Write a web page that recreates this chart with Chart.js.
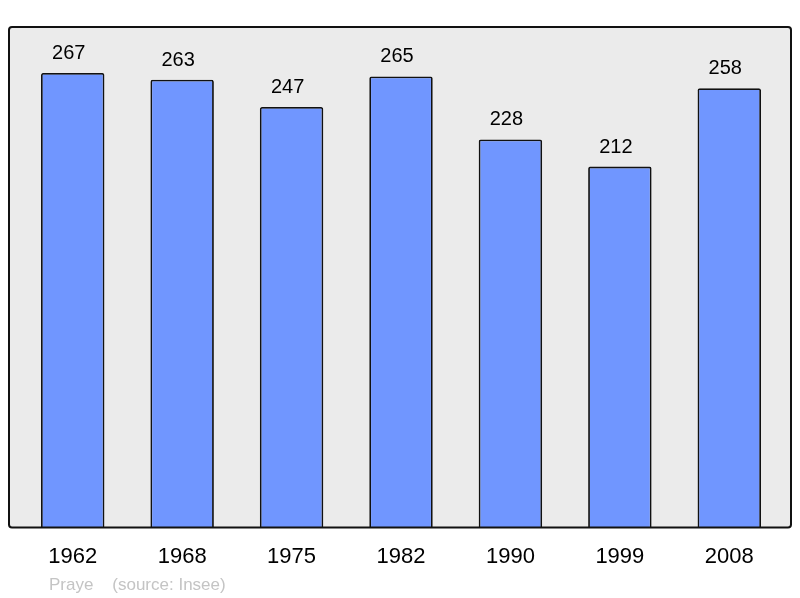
<!DOCTYPE html>
<html>
<head>
<meta charset="utf-8">
<script src="https://cdn.jsdelivr.net/npm/chart.js@4"></script>
<style>
  html, body { margin: 0; padding: 0; background: #fff; }
  #wrap { width: 800px; height: 598px; }
</style>
</head>
<body>
<div id="wrap"><canvas id="c" width="800" height="598"></canvas></div>
<script>
const years = ["1962", "1968", "1975", "1982", "1990", "1999", "2008"];
const population = [267, 263, 247, 265, 228, 212, 258];
const footerText = "Praye    (source: Insee)";

// grey rounded box behind the bars
const backdrop = {
  id: "backdrop",
  beforeDraw(chart) {
    const { ctx, chartArea: a } = chart;
    const x0 = a.left - 9, x1 = a.right + 7, y0 = a.top, y1 = a.bottom;
    ctx.save();
    ctx.beginPath();
    ctx.roundRect(x0, y0, x1 - x0, y1 - y0, 3);
    ctx.fillStyle = "#ebebeb";
    ctx.fill();
    ctx.restore();
  },
  afterDatasetsDraw(chart) {
    const { ctx, chartArea: a } = chart;
    const x0 = a.left - 9, x1 = a.right + 7, y0 = a.top, y1 = a.bottom;
    ctx.save();
    ctx.beginPath();
    ctx.roundRect(x0, y0, x1 - x0, y1 - y0, 3);
    ctx.lineWidth = 2;
    ctx.strokeStyle = "#111";
    ctx.stroke();

    // values on top of bars
    const meta = chart.getDatasetMeta(0);
    ctx.fillStyle = "#000";
    ctx.font = "20px 'Liberation Sans', Arial, sans-serif";
    ctx.textAlign = "center";
    ctx.textBaseline = "alphabetic";
    meta.data.forEach((bar, i) => {
      ctx.fillText(String(population[i]), bar.x - 4, bar.y - 14);
    });

    // source line
    ctx.fillStyle = "#c4c4c4";
    ctx.font = "17px 'Liberation Sans', Arial, sans-serif";
    ctx.textAlign = "left";
    ctx.fillText(footerText, 49, 590);
    ctx.restore();
  }
};

new Chart(document.getElementById("c"), {
  type: "bar",
  data: {
    labels: years,
    datasets: [{
      data: population,
      backgroundColor: "#7096ff",
      borderColor: "#111",
      borderWidth: 1.8,
      borderRadius: 2,
      borderSkipped: "bottom",
      barPercentage: 0.58,
      categoryPercentage: 1
    }]
  },
  options: {
    responsive: false,
    animation: false,
    layout: { padding: { left: 18, right: 16, top: 27, bottom: 12 } },
    plugins: { legend: { display: false }, tooltip: { enabled: false } },
    scales: {
      x: {
        grid: { display: false, drawTicks: false },
        border: { display: false },
        ticks: {
          color: "#000",
          padding: 16,
          font: { family: "'Liberation Sans', Arial, sans-serif", size: 22 }
        }
      },
      y: {
        display: false,
        min: 0,
        max: 294
      }
    }
  },
  plugins: [backdrop]
});
</script>
</body>
</html>
